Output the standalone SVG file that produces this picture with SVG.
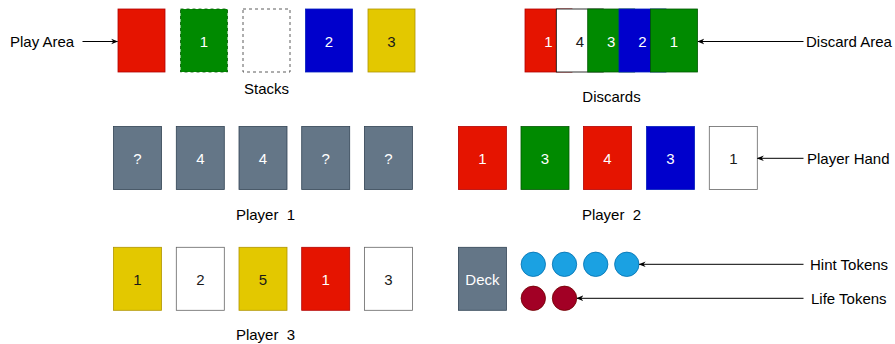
<svg xmlns="http://www.w3.org/2000/svg" width="895" height="344" viewBox="0 0 895 344">
<defs>
<marker id="arr" viewBox="0 0 10 10" refX="9" refY="5" markerWidth="7" markerHeight="7" orient="auto" markerUnits="userSpaceOnUse">
<path d="M0,1 L10,5 L0,9 L3,5 Z" fill="#000"/>
</marker>
<style>
text{font-family:"Liberation Sans",Arial,sans-serif;font-size:15px;fill:#000;white-space:pre}
.c text{text-anchor:middle}
.w{fill:#fff!important}
.k{fill:#1a1a1a!important}
.red{fill:#e51400;stroke:#b20000}
.grn{fill:#008a00;stroke:#005700}
.blu{fill:#0000cc;stroke:#001dbc}
.yel{fill:#e3c800;stroke:#b09500}
.gry{fill:#647687;stroke:#314354}
.wht{fill:#fff;stroke:#666}
.dash{stroke-dasharray:3 3}
.hint{fill:#1ba1e2;stroke:#006eaf}
.life{fill:#a20025;stroke:#6f0000}
rect,circle{stroke-width:0.8}
.con{stroke:#000;stroke-width:1;fill:none;marker-end:url(#arr)}
</style>
</defs>
<rect width="895" height="344" fill="#fff"/>

<g id="stacks" class="c">
<rect class="red" x="118" y="9" width="47" height="63"/>
<rect class="grn dash" x="180.5" y="9" width="47" height="63"/>
<text class="w" x="204" y="46.5">1</text>
<rect class="wht dash" x="243" y="9" width="47" height="63" style="stroke:#333"/>
<rect class="blu" x="305.5" y="9" width="47" height="63"/>
<text class="w" x="329" y="46.5">2</text>
<rect class="yel" x="368" y="9" width="47" height="63"/>
<text class="k" x="391.5" y="46.5">3</text>
<text x="266.5" y="93.5">Stacks</text>
</g>

<g id="discards" class="c">
<rect class="red" x="525" y="9" width="47" height="63"/>
<text class="w" x="548.5" y="46.5">1</text>
<rect x="556.3" y="9" width="47" height="63" style="fill:#fff;stroke:#000"/>
<text class="k" x="579.8" y="46.5">4</text>
<rect class="grn" x="587.7" y="9" width="47" height="63"/>
<text class="w" x="611.2" y="46.5">3</text>
<rect class="blu" x="619" y="9" width="47" height="63"/>
<text class="w" x="642.5" y="46.5">2</text>
<rect class="grn" x="650.5" y="9" width="47" height="63"/>
<text class="w" x="674" y="46.5">1</text>
<text x="611.5" y="102">Discards</text>
</g>

<g id="player1" class="c">
<rect class="gry" x="113.5" y="126.5" width="48" height="63"/>
<text class="w" x="137.5" y="163.8">?</text>
<rect class="gry" x="176.3" y="126.5" width="48" height="63"/>
<text class="w" x="200.3" y="163.8">4</text>
<rect class="gry" x="239" y="126.5" width="48" height="63"/>
<text class="w" x="263" y="163.8">4</text>
<rect class="gry" x="301.7" y="126.5" width="48" height="63"/>
<text class="w" x="325.7" y="163.8">?</text>
<rect class="gry" x="364.4" y="126.5" width="48" height="63"/>
<text class="w" x="388.4" y="163.8">?</text>
<text x="265.5" y="219.5">Player  1</text>
</g>

<g id="player2" class="c">
<rect class="red" x="458.4" y="126.5" width="48" height="63"/>
<text class="w" x="482.4" y="163.8">1</text>
<rect class="grn" x="521" y="126.5" width="48" height="63"/>
<text class="w" x="545" y="163.8">3</text>
<rect class="red" x="583.5" y="126.5" width="48" height="63"/>
<text class="w" x="607.5" y="163.8">4</text>
<rect class="blu" x="646.5" y="126.5" width="48" height="63"/>
<text class="w" x="670.5" y="163.8">3</text>
<rect class="wht" x="709.3" y="126.5" width="48" height="63"/>
<text class="k" x="733.3" y="163.8">1</text>
<text x="611.5" y="219.5">Player  2</text>
</g>

<g id="player3" class="c">
<rect class="yel" x="113.5" y="247.3" width="48" height="63"/>
<text class="k" x="137.5" y="284.5">1</text>
<rect class="wht" x="176.3" y="247.3" width="48" height="63"/>
<text class="k" x="200.3" y="284.5">2</text>
<rect class="yel" x="239" y="247.3" width="48" height="63"/>
<text class="k" x="263" y="284.5">5</text>
<rect class="red" x="301.7" y="247.3" width="48" height="63"/>
<text class="w" x="325.7" y="284.5">1</text>
<rect class="wht" x="364.4" y="247.3" width="48" height="63"/>
<text class="k" x="388.4" y="284.5">3</text>
<text x="265.5" y="339.5">Player  3</text>
</g>

<g id="deck" class="c">
<rect class="gry" x="458.4" y="247.3" width="48" height="63"/>
<text class="w" x="482.4" y="285.3">Deck</text>
</g>

<g id="hint-tokens">
<circle class="hint" cx="533.3" cy="264.3" r="12.2"/>
<circle class="hint" cx="564.5" cy="264.3" r="12.2"/>
<circle class="hint" cx="595.7" cy="264.3" r="12.2"/>
<circle class="hint" cx="626.8" cy="264.3" r="12.2"/>
</g>

<g id="life-tokens">
<circle class="life" cx="533.3" cy="298.3" r="12.2"/>
<circle class="life" cx="564.5" cy="298.3" r="12.2"/>
</g>

<g id="labels">
<text x="10" y="47">Play Area</text>
<text x="806" y="47">Discard Area</text>
<text x="807" y="163.8">Player Hand</text>
<text x="810" y="269.8">Hint Tokens</text>
<text x="811" y="303.8">Life Tokens</text>
</g>

<g id="connectors">
<path class="con" d="M82.5,41.5 H117.5"/>
<path class="con" d="M803.5,41.5 H698"/>
<path class="con" d="M803.5,158.3 H757.5"/>
<path class="con" d="M803.5,264.3 H639.3"/>
<path class="con" d="M803.5,298.3 H577"/>
</g>
</svg>
